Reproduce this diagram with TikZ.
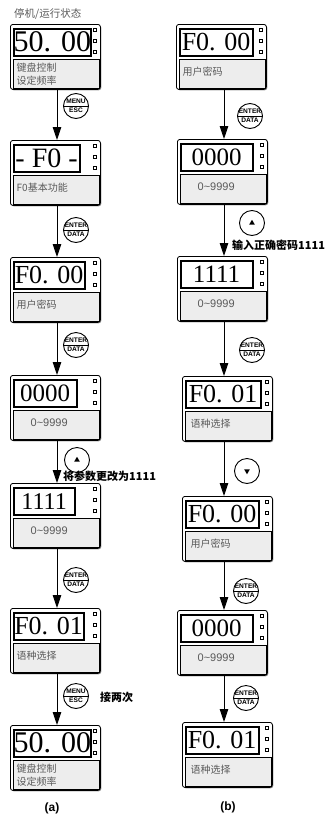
\documentclass[tikz,border=0pt]{standalone}
\usepackage{fontspec}
\setmainfont{Liberation Serif}
\newfontfamily\cjk{Noto Sans CJK SC}
\newfontfamily\arialf{Liberation Sans}
\usetikzlibrary{arrows.meta,calc,shapes.geometric,shadows}
\definecolor{panelgray}{HTML}{EDEDED}
\definecolor{txtgray}{HTML}{5A5A5A}
\tikzset{
  outerbox/.style={draw=black, line width=0.8pt, fill=white, rounded corners=2.5pt,
    minimum width=90pt, minimum height=65pt, inner sep=0pt, anchor=north west,
    drop shadow={shadow xshift=0.9pt, shadow yshift=-0.9pt, fill=black!40, opacity=1}},
  dispbox/.style={draw=black, line width=2.2pt, fill=white, minimum height=27pt,
    inner sep=0pt, anchor=north west},
  graybox/.style={draw=black, line width=1.1pt, fill=panelgray, minimum width=86pt,
    minimum height=29pt, inner sep=0pt, anchor=north west},
  dotbox/.style={draw=black, line width=1pt, fill=white, minimum size=3pt, inner sep=0pt},
  graytext/.style={text=txtgray, font=\cjk\fontsize{10}{13}\selectfont, anchor=west,
    inner sep=0pt, align=left},
  btn/.style={draw=black, line width=0.9pt, circle, minimum size=25pt, inner sep=0pt, fill=white},
  btntxt/.style={font=\arialf\bfseries\fontsize{6.6}{6.6}\selectfont, inner sep=0pt},
  tri/.style={regular polygon, regular polygon sides=3, fill=black, inner sep=0pt, minimum size=6.5pt},
  flow/.style={line width=0.9pt, -{Triangle[length=13pt,width=8.5pt]}},
  lbl/.style={font=\cjk\bfseries\fontsize{11}{11}\selectfont, anchor=west, inner sep=0pt},
  captxt/.style={font=\arialf\bfseries\fontsize{12}{12}\selectfont, inner sep=0pt}
}
% #1 name, #2 x0, #3 top, #4 display width, #5 digit size, #6 digits, #7 gray text, #8 text offset
\newcommand\dpanel[8]{%
  \node[outerbox] (#1) at (#2,#3) {};
  \node[dispbox, minimum width=#4pt, font=\fontsize{#5}{#5}\selectfont] (#1d) at ($(#1.north west)+(2.5,3.5)$) {#6};
  \node[graybox] (#1g) at ($(#1.north west)+(2.5,34.5)$) {};
  \node[dotbox] (#1p1) at ($(#1.north west)+(85,6)$) {};
  \node[dotbox] (#1p2) at ($(#1.north west)+(85,17)$) {};
  \node[dotbox] (#1p3) at ($(#1.north west)+(85,28)$) {};
  \node[graytext] (#1t) at ($(#1g.west)+(#8)$) {#7};
}
\newcommand\twobtn[4]{%
  \node[btn] (#1) at (#2) {};
  \draw[line width=0.8pt] (#1.west) -- (#1.east);
  \node[btntxt] (#1u) at ($(#1.center)+(0,-4.6)$) {#3};
  \node[btntxt] (#1l) at ($(#1.center)+(0,4.6)$) {#4};
}
\newcommand\nine{{\arialf\fontsize{11}{13}\selectfont 0\textasciitilde 9999}}
\begin{document}
\begin{tikzpicture}[x=1pt, y=-1pt]
\useasboundingbox (0,0) rectangle (333,817);
\coordinate (cA) at (57,0);
\coordinate (cB) at (224,0);

\node[anchor=west, text=txtgray, font=\cjk\fontsize{10.5}{12}\selectfont, inner sep=0pt] (title) at (14,14) {停机/运行状态};

% column (a)
\dpanel{A1}{10}{24}{77}{30}{50. 00}{键盘控制\\设定频率}{4,1}
\dpanel{A2}{10}{140}{66}{28}{- F0 -}{F0基本功能}{4,-2}
\dpanel{A3}{10}{257}{71}{26}{F0. 00}{用户密码}{4,-2}
\dpanel{A4}{10}{375}{63}{25}{0000}{\nine}{18,-2}
\dpanel{A5}{10}{483}{61}{24}{1111}{\nine}{18,-2}
\dpanel{A6}{10}{608}{70}{26}{F0. 01}{语种选择}{4,-2}
\dpanel{A7}{10}{725}{76}{30}{50. 00}{键盘控制\\设定频率}{4,1}

% column (b)
\dpanel{B1}{176}{24}{73}{26}{F0. 00}{用户密码}{4,-2}
\dpanel{B2}{177}{139}{72}{25}{0000}{\nine}{18,-2}
\dpanel{B3}{177}{256}{72}{25}{1111}{\nine}{18,-2}
\dpanel{B4}{182}{376}{75}{26}{F0. 01}{语种选择}{6,-2}
\dpanel{B5}{182}{496}{73}{26}{F0. 00}{用户密码}{6,-2}
\dpanel{B6}{177}{610}{72}{25}{0000}{\nine}{18,-2}
\dpanel{B7}{182}{722}{73}{26}{F0. 01}{语种选择}{6,-2}

% arrows (a)
\draw[flow] (A1.south -| cA) -- (A2.north -| cA);
\draw[flow] (A2.south -| cA) -- (A3.north -| cA);
\draw[flow] (A3.south -| cA) -- (A4.north -| cA);
\draw[flow] (A4.south -| cA) -- (A5.north -| cA);
\draw[flow] (A5.south -| cA) -- (A6.north -| cA);
\draw[flow] (A6.south -| cA) -- (A7.north -| cA);
% arrows (b)
\draw[flow] (B1.south -| cB) -- (B2.north -| cB);
\draw[flow] (B2.south -| cB) -- (B3.north -| cB);
\draw[flow] (B3.south -| cB) -- (B4.north -| cB);
\draw[flow] (B4.south -| cB) -- (B5.north -| cB);
\draw[flow] (B5.south -| cB) -- (B6.north -| cB);
\draw[flow] (B6.south -| cB) -- (B7.north -| cB);

% buttons (a)
\twobtn{ka1}{76,106}{MENU}{ESC}
\twobtn{ka2}{76,230}{ENTER}{DATA}
\twobtn{ka3}{76,345}{ENTER}{DATA}
\node[btn] (ka4) at (77,460) {};
\node[tri] (ka4t) at (ka4) {};
\twobtn{ka5}{76,580}{ENTER}{DATA}
\twobtn{ka6}{76,696}{MENU}{ESC}
% buttons (b)
\twobtn{kb1}{250,116}{ENTER}{DATA}
\node[btn] (kb2) at (252,223) {};
\node[tri] (kb2t) at (kb2) {};
\twobtn{kb3}{252,350}{ENTER}{DATA}
\node[btn] (kb4) at (247,471) {};
\node[tri, shape border rotate=180] (kb4t) at (kb4) {};
\twobtn{kb5}{246,591}{ENTER}{DATA}
\twobtn{kb6}{246,698}{ENTER}{DATA}

% labels
\node[lbl] (la1) at (63,476) {将参数更改为1111};
\node[lbl] (la2) at (100,697) {接两次};
\node[lbl] (lb1) at (232,245) {输入正确密码1111};

\node[captxt] (capa) at (52,808) {(a)};
\node[captxt] (capb) at (228,807) {(b)};
\end{tikzpicture}
\end{document}
